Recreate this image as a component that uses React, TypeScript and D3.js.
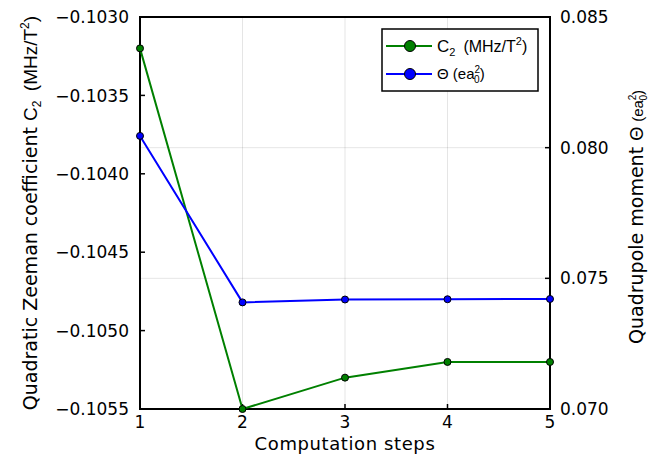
import React from "react";
import * as d3 from "d3";

// data
const steps = [1, 2, 3, 4, 5];
const c2Values = [-0.1032, -0.1055, -0.1053, -0.1052, -0.1052];
const thetaValues = [0.08045, 0.07408, 0.07419, 0.0742, 0.07421];
const leftTicks = [-0.103, -0.1035, -0.104, -0.1045, -0.105, -0.1055];
const rightTicks = [0.07, 0.075, 0.08, 0.085];

const W = 654;
const H = 455;
const FONT = "DejaVu Sans";
const TEX = "Liberation Sans";

export default function App() {
  const margin = { top: 17, bottom: 46, left: 140, right: 104 };
  const x = d3.scaleLinear().domain([1, 5]).range([margin.left, W - margin.right]);
  const yL = d3.scaleLinear().domain([-0.1055, -0.103]).range([H - margin.bottom, margin.top]);
  const yR = d3.scaleLinear().domain([0.07, 0.085]).range([H - margin.bottom, margin.top]);

  const x0 = margin.left;
  const x1 = W - margin.right;
  const y0 = H - margin.bottom;
  const y1 = margin.top;

  const lineL = d3
    .line<number>()
    .x((d, i) => x(steps[i]))
    .y((d) => yL(d));
  const lineR = d3
    .line<number>()
    .x((d, i) => x(steps[i]))
    .y((d) => yR(d));

  const green = "#008000";
  const blue = "#0000ff";
  const grid = "rgba(0,0,0,0.1)";

  return (
    <svg
      width={W}
      height={H}
      style={{ position: "absolute", left: 0, top: 0, background: "#fff" }}
      fontFamily={FONT}
    >
      {/* grid */}
      {steps.map((s) => (
        <line key={"gx" + s} x1={x(s)} x2={x(s)} y1={y0} y2={y1} stroke={grid} strokeWidth={1} />
      ))}
      {rightTicks.map((t) => (
        <line key={"gy" + t} x1={x0} x2={x1} y1={yR(t)} y2={yR(t)} stroke={grid} strokeWidth={1} />
      ))}

      {/* frame */}
      <rect x={x0} y={y1} width={x1 - x0} height={y0 - y1} fill="none" stroke="#000" strokeWidth={2} />

      {/* left ticks */}
      {leftTicks.map((t) => (
        <g key={"lt" + t}>
          <line x1={x0} x2={x0 + 5} y1={yL(t)} y2={yL(t)} stroke="#000" strokeWidth={1.5} />
          <text x={x0 - 11} y={yL(t)} dy="0.36em" textAnchor="end" fontSize={17}>
            {d3.format(".4f")(t).replace("-", "\u2212")}
          </text>
        </g>
      ))}
      {/* right ticks */}
      {rightTicks.map((t) => (
        <g key={"rt" + t}>
          <line x1={x1} x2={x1 - 5} y1={yR(t)} y2={yR(t)} stroke="#000" strokeWidth={1.5} />
          <text x={x1 + 10} y={yR(t)} dy="0.36em" textAnchor="start" fontSize={17}>
            {d3.format(".3f")(t)}
          </text>
        </g>
      ))}
      {/* bottom ticks */}
      {steps.map((s) => (
        <g key={"bt" + s}>
          <line x1={x(s)} x2={x(s)} y1={y0} y2={y0 - 5} stroke="#000" strokeWidth={1.5} />
          <text x={x(s)} y={y0 + 19} textAnchor="middle" fontSize={17}>
            {s}
          </text>
        </g>
      ))}

      {/* axis titles */}
      <text x={(x0 + x1) / 2} y={H - 5} textAnchor="middle" fontSize={18} letterSpacing={0.6}>
        Computation steps
      </text>
      <text transform={`translate(37,${(y0 + y1) / 2}) rotate(-90)`} textAnchor="middle" fontSize={19}>
        {"Quadratic Zeeman coefficient "}
        <tspan fontFamily={TEX} fontSize={19}>C</tspan>
        <tspan fontFamily={TEX} fontSize={12} dy={4}>2</tspan>
        <tspan fontFamily={TEX} fontSize={19} dy={-4}>{"\u2002(MHz/T"}</tspan>
        <tspan fontFamily={TEX} fontSize={12} dy={-8}>2</tspan>
        <tspan fontFamily={TEX} fontSize={19} dy={8}>)</tspan>
      </text>
      <text transform={`translate(643,${(y0 + y1) / 2 + 4}) rotate(-90)`} textAnchor="middle" fontSize={19}>
        {"Quadrupole moment "}
        <tspan fontFamily={TEX} fontSize={18}>{"\u0398 "}</tspan>
        <tspan fontFamily={TEX} fontSize={15}>(ea</tspan>
        <tspan fontFamily={TEX} fontSize={10} dy={-7}>2</tspan>
        <tspan fontFamily={TEX} fontSize={10} dy={11} dx={-6}>0</tspan>
        <tspan fontFamily={TEX} fontSize={15} dy={-4}>)</tspan>
      </text>

      {/* series */}
      <path d={lineL(c2Values) || ""} fill="none" stroke={green} strokeWidth={2} />
      {c2Values.map((v, i) => (
        <circle key={"cm" + i} cx={x(steps[i])} cy={yL(v)} r={3.5} fill={green} stroke="#000" strokeWidth={1} />
      ))}
      <path d={lineR(thetaValues) || ""} fill="none" stroke={blue} strokeWidth={2} />
      {thetaValues.map((v, i) => (
        <circle key={"tm" + i} cx={x(steps[i])} cy={yR(v)} r={3.5} fill={blue} stroke="#000" strokeWidth={1} />
      ))}

      {/* legend */}
      <g fontFamily={TEX}>
        <rect x={382} y={29} width={156} height={62} fill="#fff" stroke="#000" strokeWidth={1.5} />
        <line x1={386} x2={432} y1={46} y2={46} stroke={green} strokeWidth={2} />
        <circle cx={410} cy={46} r={5.5} fill={green} stroke="#000" strokeWidth={1} />
        <text x={437} y={46} dy="0.36em" fontSize={17}>
          C
          <tspan fontSize={11} dy={4}>2</tspan>
          <tspan fontSize={16} dy={-4}>{"\u2002(MHz/T"}</tspan>
          <tspan fontSize={11} dy={-7}>2</tspan>
          <tspan fontSize={16} dy={7}>)</tspan>
        </text>
        <line x1={386} x2={432} y1={74} y2={74} stroke={blue} strokeWidth={2} />
        <circle cx={410} cy={74} r={5.5} fill={blue} stroke="#000" strokeWidth={1} />
        <text x={437} y={74} dy="0.36em" fontSize={15}>
          {"\u0398 (ea"}
          <tspan fontSize={10} dy={-6}>2</tspan>
          <tspan fontSize={10} dy={10} dx={-6}>0</tspan>
          <tspan fontSize={15} dy={-4}>)</tspan>
        </text>
      </g>
    </svg>
  );
}
